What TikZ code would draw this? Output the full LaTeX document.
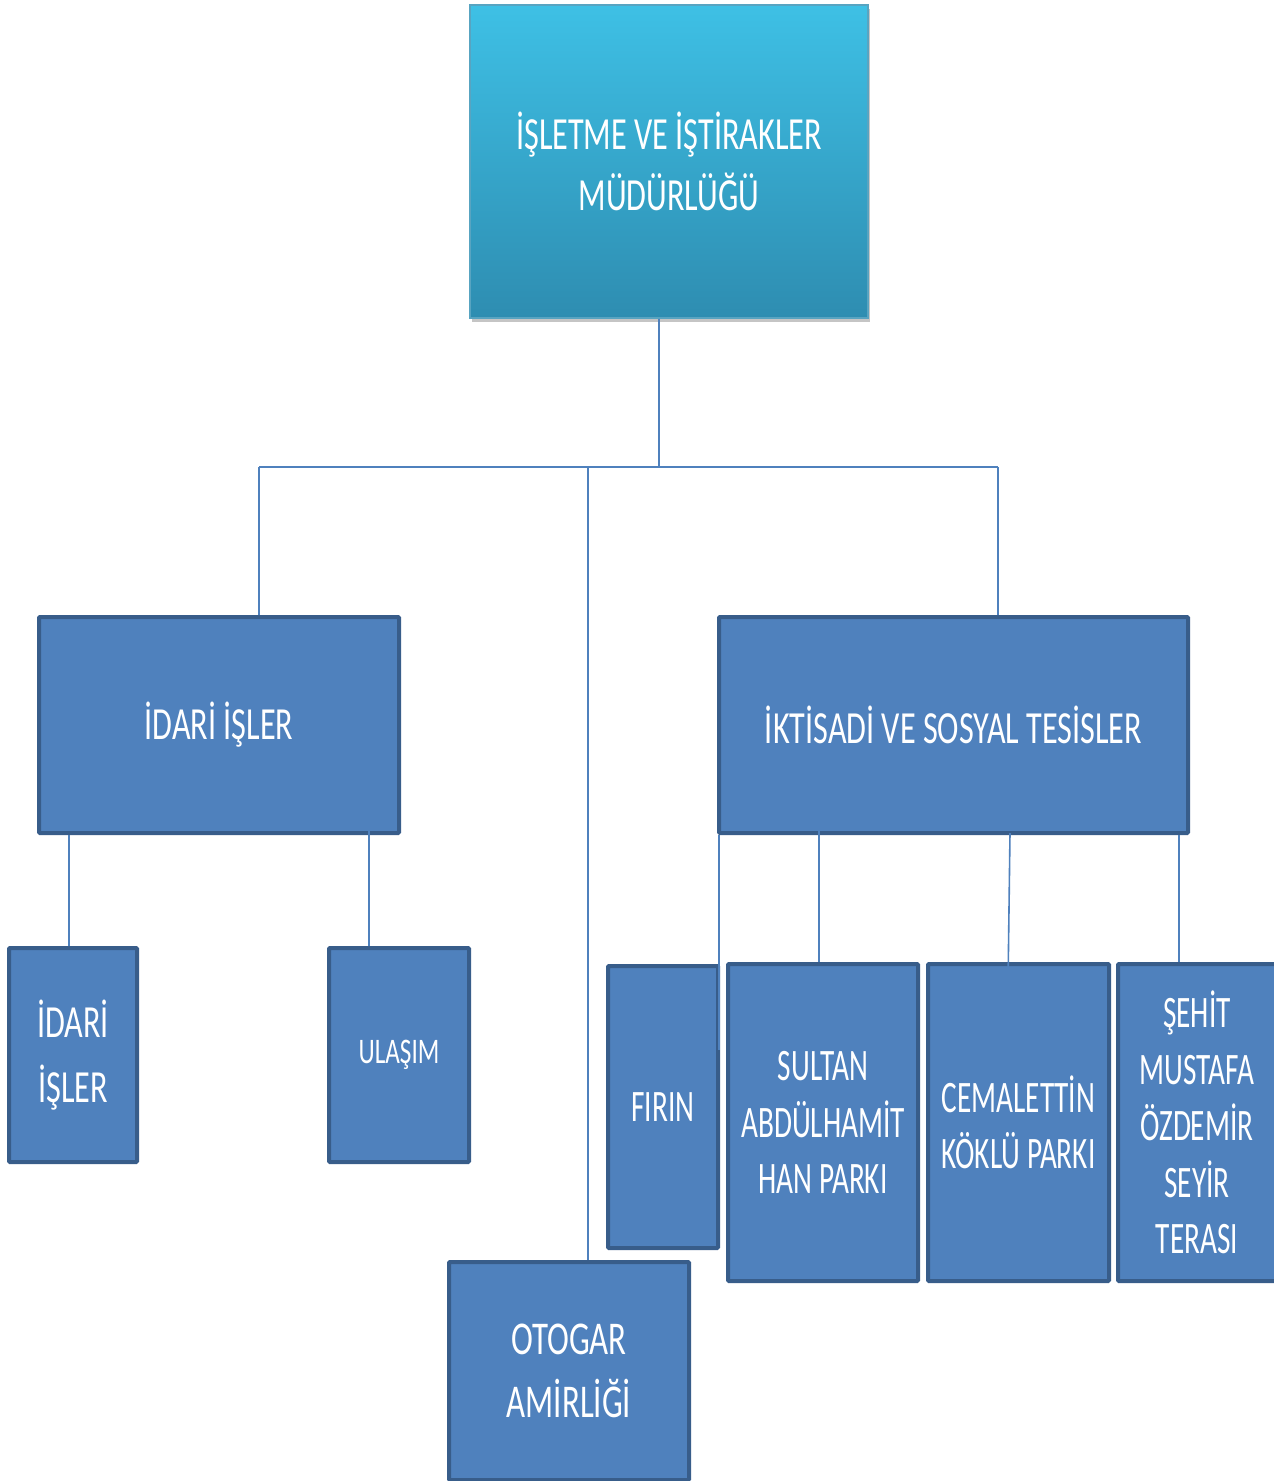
\documentclass[tikz,border=0pt]{standalone}
\usepackage{fontspec}
\newfontfamily\cf[FakeStretch=0.7]{Carlito}
\newfontfamily\cfn[FakeStretch=0.65]{Carlito}
\usetikzlibrary{shadows}
\definecolor{boxfill}{HTML}{4F81BD}
\definecolor{boxline}{HTML}{385D8A}
\definecolor{topA}{HTML}{3EC0E5}
\definecolor{topB}{HTML}{2E8DB1}
\definecolor{conn}{HTML}{4F81BD}
\tikzset{
  bluebox/.style={rectangle, fill=boxfill, draw=boxline, line width=4pt, text=white, align=center, inner sep=0pt, rounded corners=1pt},
  topbox/.style={rectangle, top color=topA, bottom color=topB, draw=topB!80!white, line width=1.2pt, text=white, align=center, inner sep=0pt,
     drop shadow={opacity=0.45, shadow xshift=2pt, shadow yshift=-4pt}},
  wire/.style={draw=conn, line width=1.6pt},
  fA/.style={font=\cf\fontsize{46}{61}\selectfont},
  fB/.style={font=\cf\fontsize{46}{65}\selectfont},
  fC/.style={font=\cfn\fontsize{45}{56.5}\selectfont},
  fD/.style={font=\cf\fontsize{36}{44}\selectfont},
  fE/.style={font=\cf\fontsize{47}{63}\selectfont}
}
\begin{document}
\begin{tikzpicture}[x=1pt,y=-1pt]
\useasboundingbox (0,0) rectangle (1274,1481);
\fill[white] (0,0) rectangle (1274,1481);
% boxes
\node[topbox, fA, minimum width=398pt, minimum height=313pt] (top) at (669,161.5) {İŞLETME VE İŞTİRAKLER\\MÜDÜRLÜĞÜ};
\node[bluebox, fB, minimum width=360pt, minimum height=216pt] (idari) at (219,725) {İDARİ İŞLER};
\node[bluebox, fB, minimum width=469pt, minimum height=216pt] (iktisadi) at (953.5,725) {İKTİSADİ VE SOSYAL TESİSLER};
\node[bluebox, fB, minimum width=128pt, minimum height=214pt] (sidari) at (73,1055) {İDARİ\\İŞLER};
\node[bluebox, fD, minimum width=140pt, minimum height=214pt] (ulasim) at (399,1055) {ULAŞIM};
\node[bluebox, fC, minimum width=110pt, minimum height=282pt] (firin) at (663,1107) {FIRIN};
\node[bluebox, fC, minimum width=190pt, minimum height=317pt] (sultan) at (823,1122.5) {SULTAN\\ABDÜLHAMİT\\HAN PARKI};
\node[bluebox, fC, minimum width=181pt, minimum height=317pt] (cemal) at (1018.5,1122.5) {CEMALETTİN\\KÖKLÜ PARKI};
\node[bluebox, fC, minimum width=158pt, minimum height=317pt] (sehit) at (1197,1122.5) {ŞEHİT\\MUSTAFA\\ÖZDEMİR\\SEYİR\\TERASI};
\node[bluebox, fE, minimum width=240pt, minimum height=218pt] (otogar) at (569,1371) {OTOGAR\\AMİRLİĞİ};
% junction coordinates
\coordinate (j) at (659,467);
\coordinate (jl) at (259,467);
\coordinate (jr) at (998,467);
\coordinate (jo) at (588,467);
\coordinate (u0) at (369,815);
\coordinate (s0) at (819,800);
\coordinate (f1) at (719,1050);
\coordinate (c0) at (1010,833);
\coordinate (c1) at (1008,985);
% connectors
\draw[wire] (top.south -| j) -- (j);
\draw[wire] (jl) -- (jr);
\draw[wire] (jl) -- (jl |- idari.north);
\draw[wire] (jr) -- (jr |- iktisadi.north);
\draw[wire] (jo) -- (jo |- otogar.north);
\draw[wire] (idari.south -| 69,0) -- (sidari.north -| 69,0);
\draw[wire] (u0) -- (u0 |- ulasim.north);
\draw[wire] (iktisadi.south -| f1) -- (f1);
\draw[wire] (s0) -- (s0 |- sultan.north);
\draw[wire] (c0) -- (c1);
\draw[wire] (iktisadi.south -| 1179,0) -- (sehit.north -| 1179,0);
\end{tikzpicture}
\end{document}
